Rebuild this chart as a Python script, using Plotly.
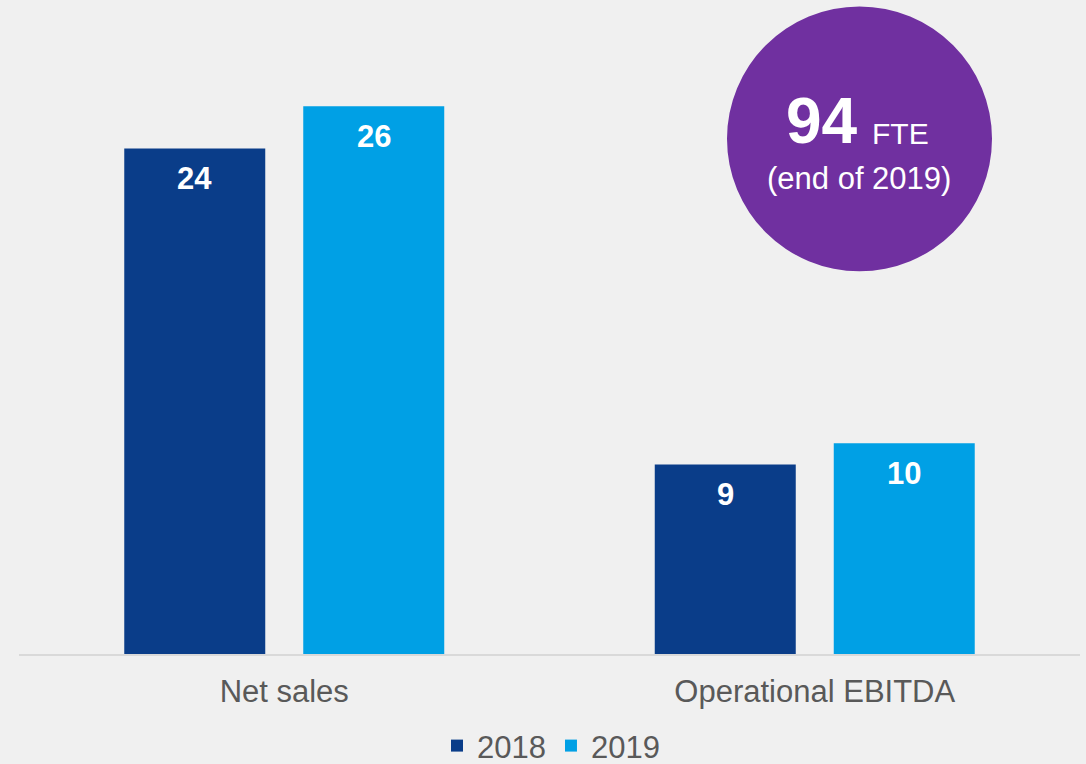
import plotly.graph_objects as go

categories = ["Net sales", "Operational EBITDA"]
years = ["2018", "2019"]
values_2018 = [24, 9]
values_2019 = [26, 10]
colors = ["#0A3D89", "#00A0E5"]

fte_value = 94
fte_unit = "FTE"
fte_note = "(end of 2019)"

W, H = 1086, 764
ML, MR, MT, MB = 19, 6, 21.6, 110
PW = W - ML - MR
PH = H - MT - MB
FONT = "Liberation Sans, Arial, sans-serif"


def px_x(px):
    return (px - ML) / PW


def px_y(py):
    return (H - MB - py) / PH


fig = go.Figure()
for yr, vals, col in zip(years, [values_2018, values_2019], colors):
    fig.add_trace(go.Bar(name=yr, x=categories, y=vals, marker=dict(color=col, line=dict(width=0)),
                         hoverinfo="x+y"))

# data labels inside top of bars
shift = 89.5
for i, vals in enumerate([values_2018, values_2019]):
    for c, v in zip(categories, vals):
        fig.add_annotation(x=c, y=v, xref="x", yref="y", text=f"<b>{v}</b>", showarrow=False,
                           xshift=-shift if i == 0 else shift, yanchor="top", yshift=-11,
                           font=dict(family=FONT, size=31, color="white"))

# FTE circle
fig.add_shape(type="circle", xref="paper", yref="paper",
              x0=px_x(727), x1=px_x(992), y0=px_y(271), y1=px_y(6),
              fillcolor="#7030A0", line=dict(width=0), layer="above")
fig.add_annotation(xref="paper", yref="paper", x=px_x(860), y=px_y(121), xanchor="right", yanchor="middle",
                   text=f"<b>{fte_value}</b>", showarrow=False,
                   font=dict(family=FONT, size=64, color="white"))
fig.add_annotation(xref="paper", yref="paper", x=px_x(870), y=px_y(133), xanchor="left", yanchor="middle",
                   text=fte_unit, showarrow=False,
                   font=dict(family=FONT, size=30, color="white"))
fig.add_annotation(xref="paper", yref="paper", x=px_x(859), y=px_y(178), xanchor="center", yanchor="middle",
                   text=fte_note, showarrow=False,
                   font=dict(family=FONT, size=31, color="white"))

fig.update_layout(
    width=W, height=H,
    margin=dict(l=ML, r=MR, t=MT, b=MB, autoexpand=False),
    paper_bgcolor="#F0F0F0", plot_bgcolor="#F0F0F0",
    barmode="group", bargap=0.3252, bargroupgap=0.2123,
    font=dict(family=FONT, size=31, color="#595959"),
    showlegend=True,
    legend=dict(orientation="h", x=px_x(551), xanchor="center", y=px_y(746), yanchor="middle",
                font=dict(family=FONT, size=31, color="#595959"), bgcolor="rgba(0,0,0,0)",
                itemclick=False),
    xaxis=dict(showline=True, linecolor="#D9D9D9", linewidth=2, ticks="", showgrid=False,
               automargin=False, ticklabelstandoff=9,
               tickfont=dict(family=FONT, size=31, color="#595959"), range=[-0.5, 1.5]),
    yaxis=dict(range=[0, 30], visible=False, showgrid=False, zeroline=False, automargin=False),
)

fig.write_html("out.html", config={"displayModeBar": False},
               post_script="document.body.style.margin='0';document.body.style.overflow='hidden';"
                           "document.body.style.background='#F0F0F0';")
